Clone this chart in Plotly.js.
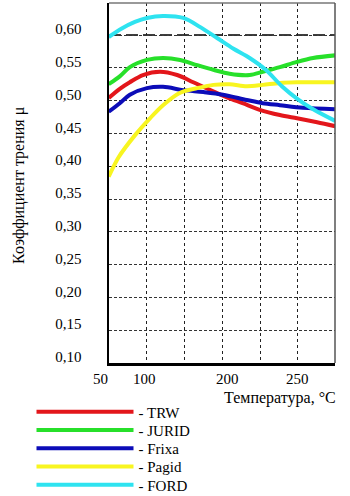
<!DOCTYPE html>
<html>
<head>
<meta charset="utf-8">
<script src="https://cdn.plot.ly/plotly-3.0.1.min.js"></script>
<style>html,body{margin:0;padding:0;background:#fff;}#chart{width:350px;height:496px;}</style>
</head>
<body>
<div id="chart"></div>
<script>
// Temperature, °C  /  friction coefficient μ
const tempTRW   = [62, 73, 83, 96, 113, 130, 146, 163, 179.5, 195, 212, 232, 249, 269, 287];
const muTRW     = [0.504, 0.518, 0.528, 0.539, 0.544, 0.539, 0.528, 0.516, 0.505, 0.496, 0.486, 0.478, 0.473, 0.467, 0.461];

const tempJURID = [62, 73, 83, 100, 116, 133, 150, 166, 182, 202, 215, 232, 249, 265, 287];
const muJURID   = [0.525, 0.537, 0.551, 0.562, 0.565, 0.562, 0.554, 0.547, 0.541, 0.539, 0.544, 0.551, 0.559, 0.565, 0.569];

const tempFrixa = [62, 73, 83, 100, 116, 136, 156, 175.5, 199, 215, 232, 255, 287];
const muFrixa   = [0.483, 0.496, 0.509, 0.519, 0.521, 0.516, 0.513, 0.509, 0.501, 0.496, 0.493, 0.489, 0.487];

const tempPagid = [62, 72, 88, 103, 116, 133, 150, 166, 182, 199, 215, 232, 249, 287];
const muPagid   = [0.384, 0.414, 0.447, 0.473, 0.493, 0.512, 0.519, 0.524, 0.525, 0.522, 0.524, 0.527, 0.528, 0.528];

const tempFORD  = [62, 75, 88, 100, 116, 136, 153, 170, 186, 202, 218, 234, 250, 266, 287];
const muFORD    = [0.597, 0.610, 0.620, 0.626, 0.629, 0.626, 0.612, 0.595, 0.579, 0.565, 0.547, 0.522, 0.502, 0.486, 0.469];

const seriesNames  = ["TRW", "JURID", "Frixa", "Pagid", "FORD"];
const seriesColors = ["#e3161b", "#27e02a", "#0c0cb8", "#f8f520", "#2ee3f0"];
const seriesX = [tempTRW, tempJURID, tempFrixa, tempPagid, tempFORD];
const seriesY = [muTRW, muJURID, muFrixa, muPagid, muFORD];

// axis ticks / labels
const yLabelVals = [0.10, 0.15, 0.20, 0.25, 0.30, 0.35, 0.40, 0.45, 0.50, 0.55, 0.60];
const yLabelText = ["0,10", "0,15", "0,20", "0,25", "0,30", "0,35", "0,40", "0,45", "0,50", "0,55", "0,60"];
const xGridVals  = [100, 137.5, 175, 212.5, 250];
const xLabelPos  = [54, 98, 180.5, 250];
const xLabelText = ["50", "100", "200", "250"];
const refLevel   = 0.60;

const xRange = [62.3, 286.8];
const yRange = [0.10, 0.6488];
const serif = "Liberation Serif, Times New Roman, serif";

// legend row positions (container fraction, from bottom)
const legendRowY = [0.1694, 0.1326, 0.0958, 0.0590, 0.0222];
const legendIds = ["legend", "legend2", "legend3", "legend4", "legend5"];

const traces = seriesNames.map((n, i) => ({
  type: "scatter", mode: "lines",
  x: seriesX[i], y: seriesY[i],
  name: "- " + n,
  legend: legendIds[i],
  line: {color: seriesColors[i], width: 4, shape: "spline", smoothing: 0.9}
}));

const xFrac = v => (v - xRange[0]) / (xRange[1] - xRange[0]);

const layout = {
  width: 350, height: 496,
  margin: {l: 109, r: 15, t: 3, b: 133, autoexpand: false},
  paper_bgcolor: "#fff", plot_bgcolor: "#fff",
  font: {family: serif, size: 15, color: "#000"},
  showlegend: true,
  xaxis: {
    range: xRange,
    tickvals: xGridVals, showticklabels: false, ticks: "",
    showgrid: true, gridcolor: "#222", gridwidth: 1, griddash: "3px,3px",
    showline: true, linecolor: "#000", linewidth: 2.5,
    zeroline: false, fixedrange: true
  },
  yaxis: {
    range: yRange,
    tickvals: yLabelVals, ticktext: yLabelText, ticks: "",
    tickfont: {family: serif, size: 15, color: "#000"},
    ticklabelshift: -6, ticklabelstandoff: 22,
    showgrid: true, gridcolor: "#333", gridwidth: 1, griddash: "3px,2px",
    showline: true, linecolor: "#000", linewidth: 2.5,
    zeroline: false, fixedrange: true
  },
  shapes: [
    {type: "line", xref: "paper", yref: "y", x0: 0, x1: 1, y0: refLevel, y1: refLevel,
     line: {color: "#fff", width: 2}, layer: "between"},
    {type: "line", xref: "paper", yref: "y", x0: 0, x1: 1, y0: refLevel, y1: refLevel,
     line: {color: "#000", width: 1.5, dash: "12px,5px"}, layer: "between"},
    {type: "line", xref: "paper", yref: "paper", x0: 0, x1: 1, y0: 1, y1: 1,
     line: {color: "#777", width: 1.5}, layer: "above"},
    {type: "line", xref: "paper", yref: "paper", x0: 1, x1: 1, y0: 0, y1: 1,
     line: {color: "#555", width: 1.5}, layer: "above"}
  ],
  annotations: [
    {text: "Температура, °C", xref: "paper", yref: "paper", x: 1.015, y: 0,
     xanchor: "right", yanchor: "middle", yshift: -35, showarrow: false,
     font: {family: serif, size: 16, color: "#000"}},
    {text: "Коэффициент трения μ", xref: "paper", yref: "paper", x: -0.398, y: 0.492,
     xanchor: "center", yanchor: "middle", textangle: -90, showarrow: false,
     font: {family: serif, size: 16, color: "#000"}}
  ].concat(xLabelText.map((t, i) => ({
     text: t, xref: "paper", yref: "paper", x: xFrac(xLabelPos[i]), y: 0,
     xanchor: "center", yanchor: "middle", yshift: -16, showarrow: false,
     font: {family: serif, size: 15, color: "#000"}
  })))
};

legendIds.forEach((id, i) => {
  layout[id] = {
    xref: "container", yref: "container",
    x: 0.09, y: legendRowY[i], xanchor: "left", yanchor: "middle",
    bgcolor: "rgba(0,0,0,0)", itemwidth: 97,
    font: {family: serif, size: 15, color: "#000"}
  };
});

Plotly.newPlot("chart", traces, layout, {staticPlot: true, displayModeBar: false});
</script>
</body>
</html>
